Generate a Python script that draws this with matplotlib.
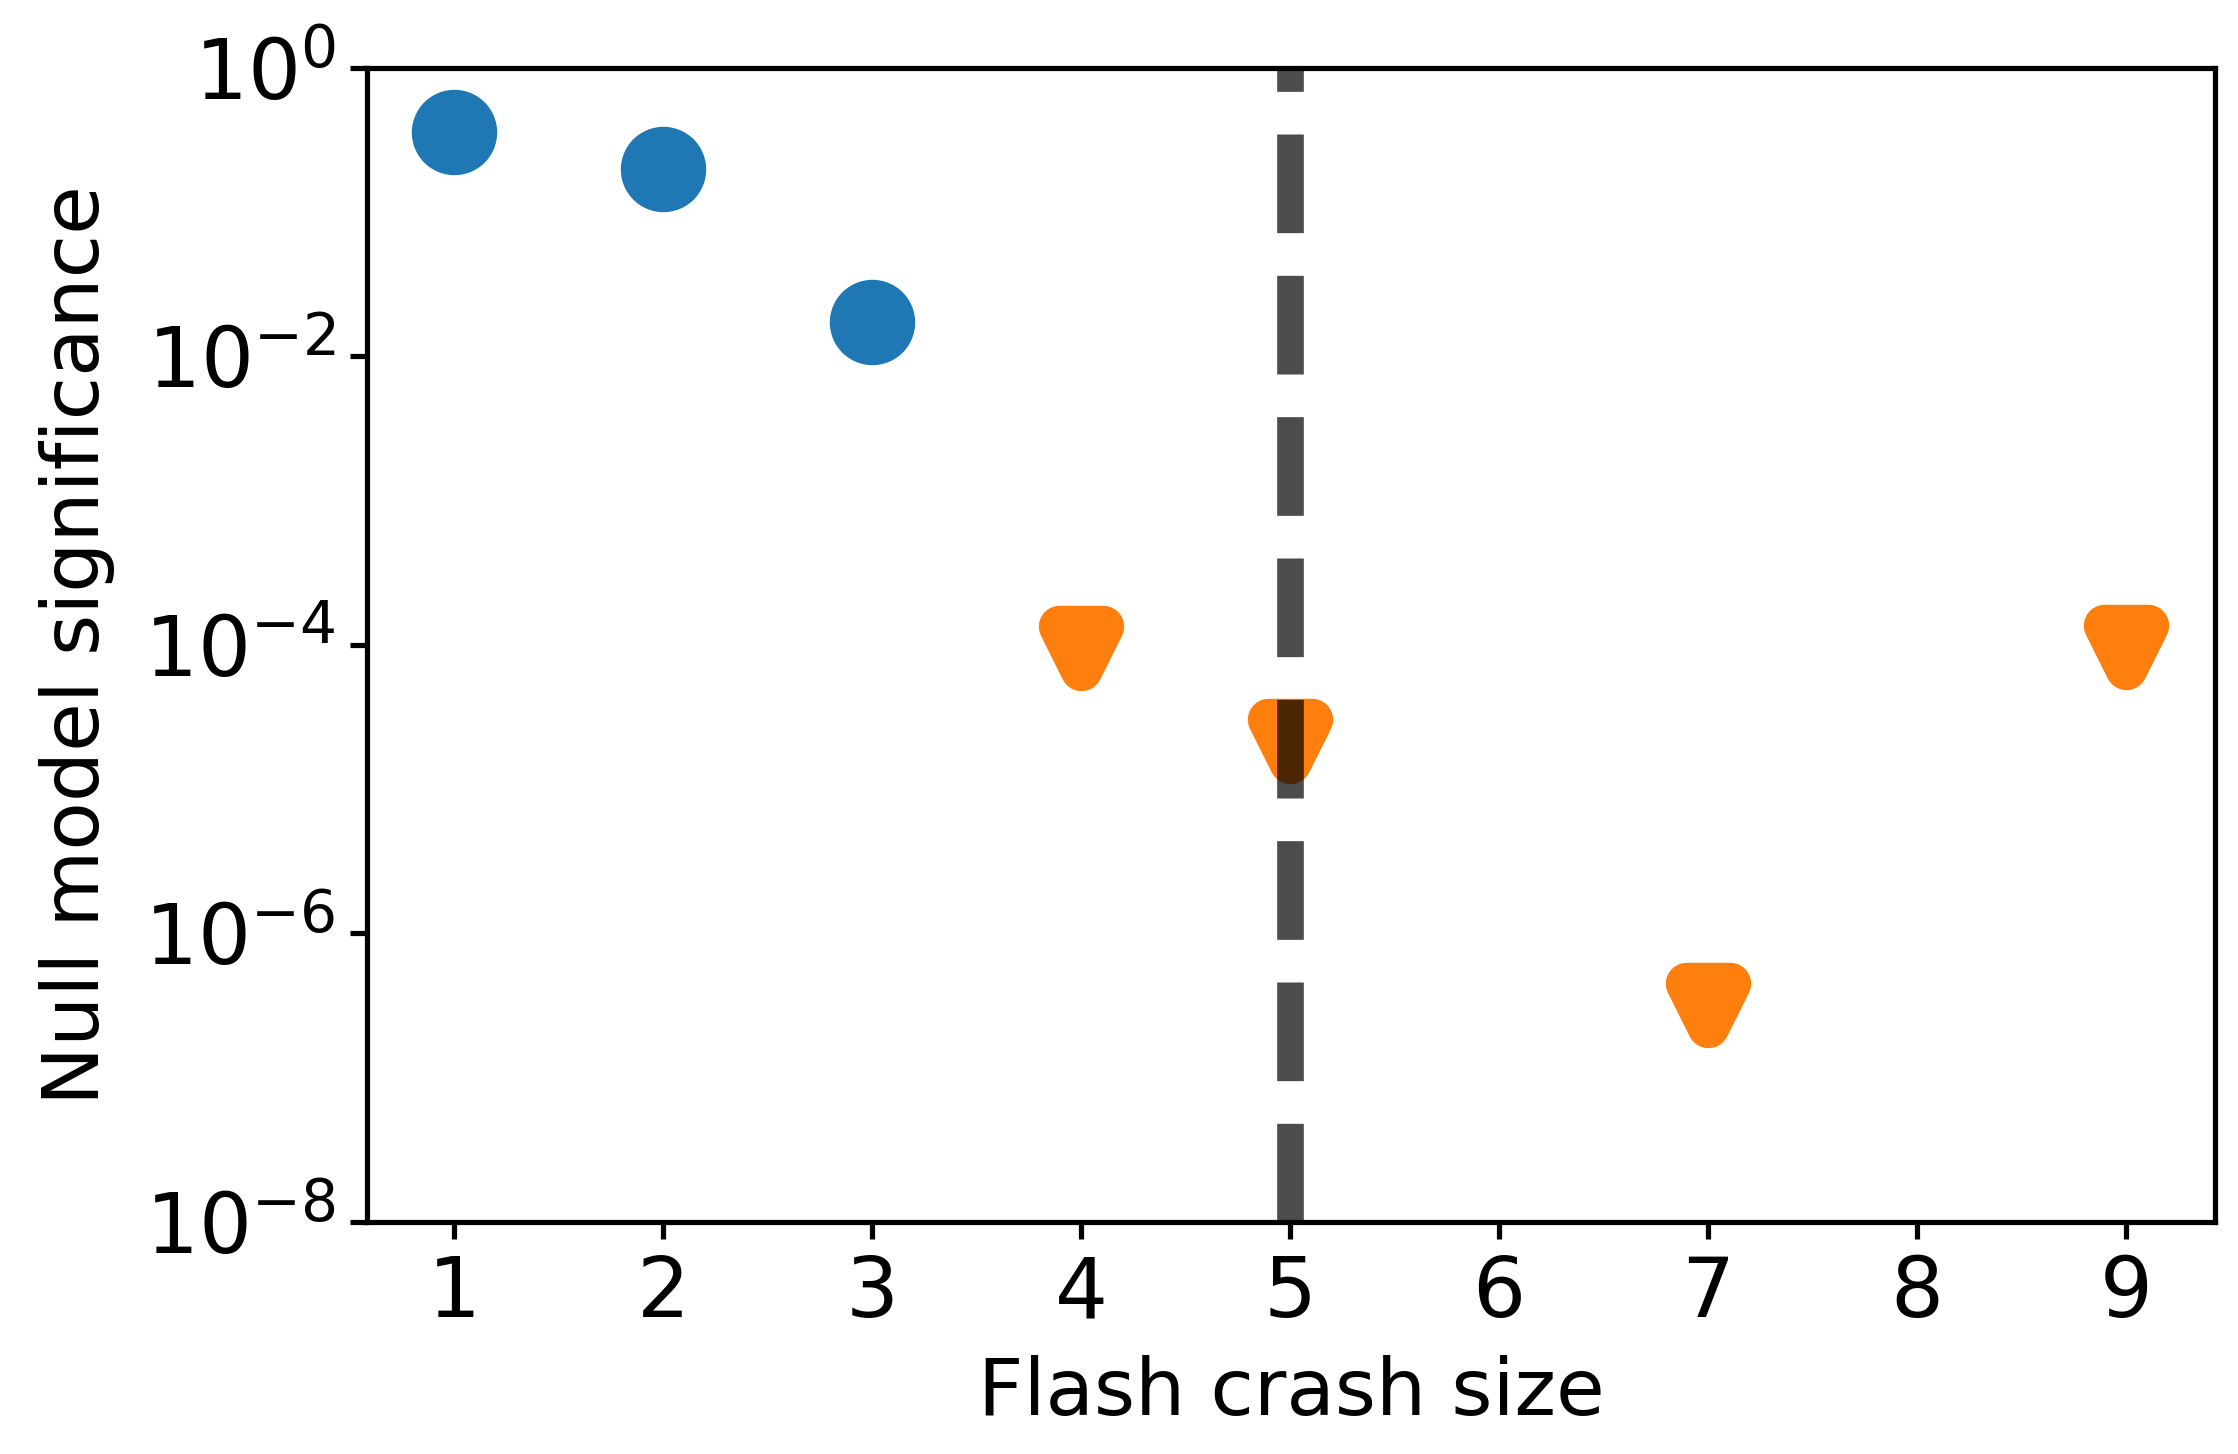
import matplotlib
matplotlib.use('Agg')
import matplotlib.pyplot as plt
from matplotlib.ticker import NullLocator

# --- data ---
small_sizes = [1, 2, 3]
small_signif = [0.36, 0.2, 0.0172]

big_sizes = [4, 5, 7, 9]
big_signif = [9.5e-5, 2.15e-5, 3.2e-7, 9.7e-5]

threshold = 5
xticks = [1, 2, 3, 4, 5, 6, 7, 8, 9]
yticks = [1e-8, 1e-6, 1e-4, 1e-2, 1e0]

plt.rcParams['font.size'] = 20
plt.rcParams['axes.linewidth'] = 1.25

fig = plt.figure(figsize=(7.46, 4.8467), dpi=300)
ax = fig.add_axes([0.164, 0.1596, 0.8257, 0.7938])

ax.scatter(small_sizes, small_signif, marker='o', s=10.5 ** 2,
           linewidths=10, color='C0', joinstyle='round', zorder=2)
ax.scatter(big_sizes, big_signif, marker='v', s=10.5 ** 2,
           linewidths=10, color='C1', joinstyle='round', zorder=2)
# plain fill on top so the thick rounded stroke leaves no hole inside
ax.scatter(big_sizes, big_signif, marker='v', s=13 ** 2,
           linewidths=0, color='C1', zorder=2.1)

# threshold line on top of the markers
ax.axvline(threshold, color='k', alpha=0.7, linestyle='--', linewidth=6.4,
           zorder=3)

ax.set_yscale('log')
ax.set_ylim(1e-8, 1e0)
ax.set_yticks(yticks)
ax.yaxis.set_minor_locator(NullLocator())
ax.set_xlim(0.584, 9.426)
ax.set_xticks(xticks)
ax.tick_params(length=4, width=1.25, labelsize=20)

ax.set_xlabel('Flash crash size', fontsize=19, labelpad=5)
ax.set_ylabel('Null model significance', fontsize=19, labelpad=7)

fig.savefig('out.png', dpi=300)
